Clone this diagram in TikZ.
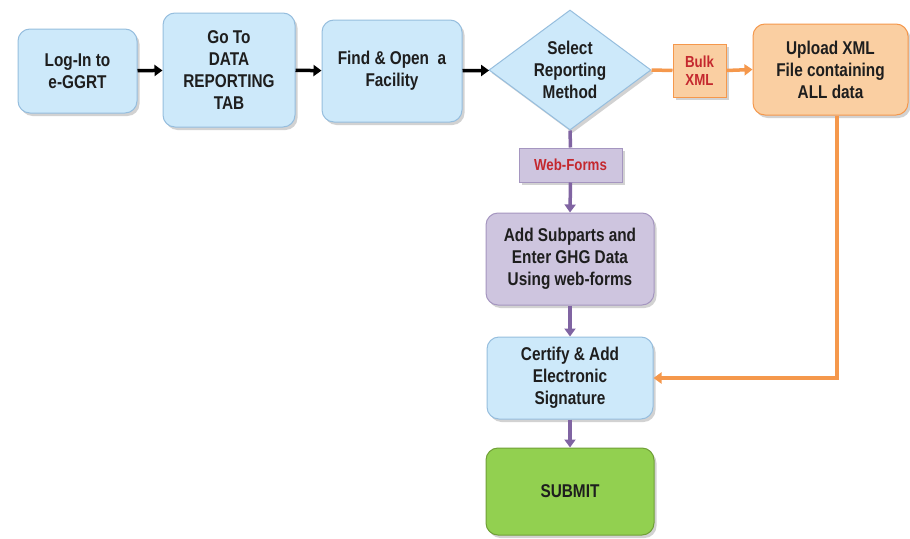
\documentclass[tikz,border=0pt]{standalone}
\usepackage{fontspec}
\setmainfont{Liberation Sans}[FakeStretch=0.83]
\usetikzlibrary{shapes.geometric,arrows.meta,shadows}
\definecolor{bluefill}{RGB}{205,233,250}
\definecolor{blueline}{RGB}{150,190,222}
\definecolor{purplefill}{RGB}{206,197,223}
\definecolor{purpleline}{RGB}{128,100,162}
\definecolor{purpleborder}{RGB}{165,150,192}
\definecolor{orangefill}{RGB}{250,207,162}
\definecolor{orangeline}{RGB}{245,152,76}
\definecolor{greenfill}{RGB}{146,208,80}
\definecolor{greenline}{RGB}{112,160,55}
\definecolor{labelred}{RGB}{196,40,46}
\definecolor{txt}{RGB}{30,30,30}
\tikzset{
  mainfont/.style={font=\bfseries\fontsize{18.5}{22}\selectfont, text=txt, align=center},
  labfont/.style={font=\bfseries\fontsize{16}{18}\selectfont, text=labelred, align=center},
  shad/.style={drop shadow={opacity=0.35, shadow xshift=2.5pt, shadow yshift=-3pt}},
  bluebox/.style={mainfont, draw=blueline, fill=bluefill, line width=1pt, rounded corners=12pt, inner sep=0pt, shad},
  purplebox/.style={mainfont, draw=purpleborder, fill=purplefill, line width=1pt, rounded corners=12pt, inner sep=0pt, shad},
  orangebox/.style={mainfont, draw=orangeline, fill=orangefill, line width=1pt, rounded corners=12pt, inner sep=0pt, shad},
  greenbox/.style={mainfont, draw=greenline, fill=greenfill, line width=1pt, rounded corners=12pt, inner sep=0pt, shad},
  decbox/.style={mainfont, shape=diamond, draw=blueline, fill=bluefill, line width=1pt, inner sep=0pt, aspect=1.35, shad},
  bulkbox/.style={labfont, draw=orangeline, fill=orangefill, line width=1pt, inner sep=0pt, shad},
  webbox/.style={labfont, draw=purpleborder, fill=purplefill, line width=1pt, inner sep=0pt, shad},
  blackarrow/.style={draw=black, line width=3.5pt, -{Triangle[length=8pt,width=11pt]}},
  orangearrow/.style={draw=orangeline, line width=3.5pt, -{Triangle[length=8pt,width=11pt]}},
  orangeplain/.style={draw=orangeline, line width=3.5pt},
  purplearrow/.style={draw=purpleline, line width=3.5pt, -{Triangle[length=8pt,width=11pt]}},
  purpleplain/.style={draw=purpleline, line width=3.5pt},
}
\begin{document}
\begin{tikzpicture}[x=1pt,y=-1pt]
\useasboundingbox (0,0) rectangle (910,538);
\fill[white] (0,0) rectangle (910,538);

\node[bluebox, minimum width=119pt, minimum height=84pt] (login) at (77.5,71) {Log-In to\\e-GGRT};
\node[bluebox, minimum width=132pt, minimum height=114pt] (goto) at (229,70) {Go To\\DATA\\REPORTING\\TAB};
\node[bluebox, minimum width=140pt, minimum height=102pt] (find) at (392,71) {Find \& Open~~a\\Facility};
\node[decbox, minimum width=162pt, minimum height=120pt] (select) at (570,70) {Select\\Reporting\\Method};
\node[bulkbox, minimum width=53pt, minimum height=53pt] (bulk) at (699.5,70.5) {Bulk\\XML};
\node[orangebox, minimum width=155pt, minimum height=91pt] (upload) at (830.5,69.5) {Upload XML\\File containing\\ALL data};
\node[webbox, minimum width=103pt, minimum height=34pt] (web) at (570.5,165) {Web-Forms};
\node[purplebox, minimum width=168pt, minimum height=92pt] (add) at (570,259) {Add Subparts and\\Enter GHG Data\\Using web-forms};
\node[bluebox, minimum width=166pt, minimum height=82pt] (certify) at (570,378) {Certify \& Add\\Electronic\\Signature};
\node[greenbox, minimum width=168pt, minimum height=87pt] (submit) at (570,491.5) {SUBMIT};

\draw[blackarrow] (login) -- (goto);
\draw[blackarrow] (goto) -- (find);
\draw[blackarrow] (find) -- (select);
\draw[orangeplain] (select.east) -- (bulk.west);
\draw[orangearrow] (bulk.east) -- (upload.west);
\draw[purpleplain] (select.south) -- (web.north);
\draw[purplearrow] (web.south) -- (add.north);
\draw[purplearrow] (add.south) -- (certify.north);
\draw[purplearrow] (certify.south) -- (submit.north);
\draw[orangearrow] ([xshift=6.5pt]upload.south) |- (certify.east);
\end{tikzpicture}
\end{document}
